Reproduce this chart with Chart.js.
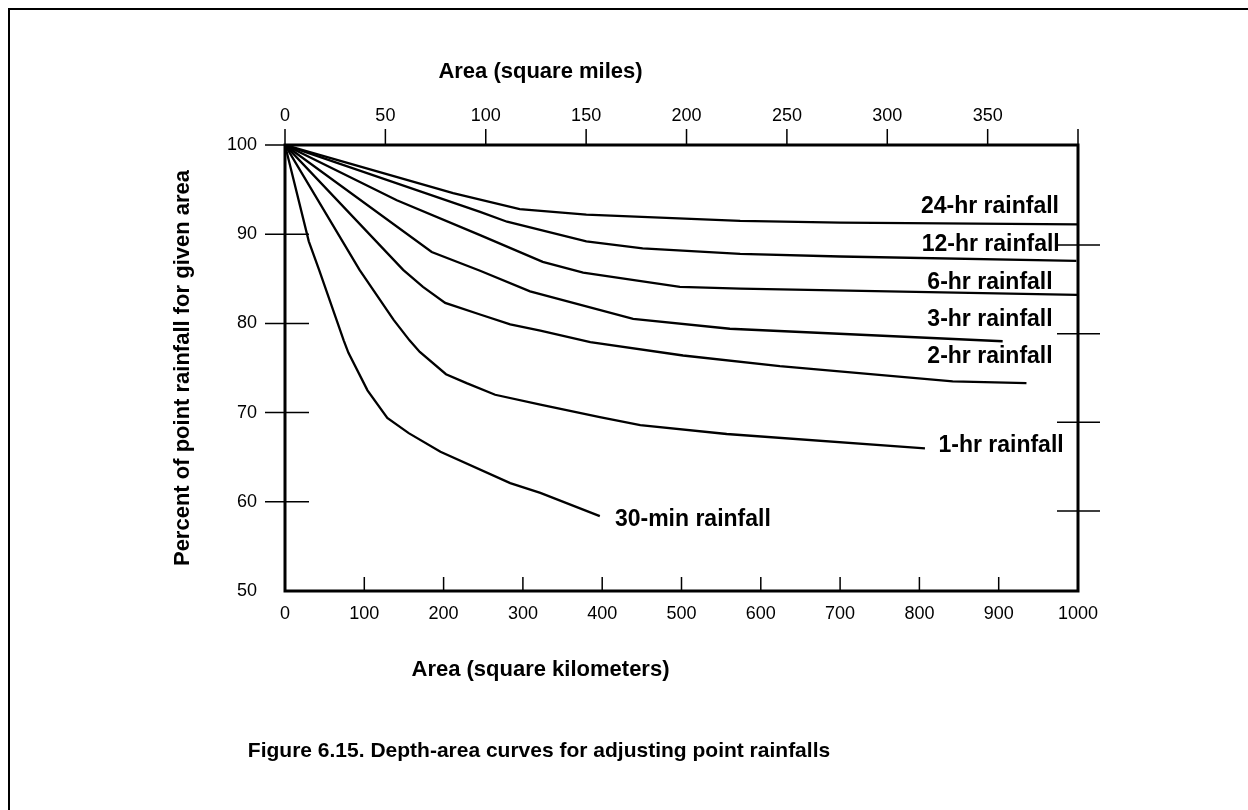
<!DOCTYPE html>
<html>
<head>
<meta charset="utf-8">
<script src="https://cdn.jsdelivr.net/npm/chart.js@4"></script>
<style>
  html, body { margin: 0; padding: 0; background: #fff; }
</style>
</head>
<body>
<canvas id="chart" width="1248" height="810"></canvas>
<script>
// depth-area curves: [area km², % of point rainfall]
const SERIES_NAMES = ['24-hr rainfall', '12-hr rainfall', '6-hr rainfall', '3-hr rainfall',
                      '2-hr rainfall', '1-hr rainfall', '30-min rainfall'];
const HR24 = [[0, 100], [212, 94.6], [296, 92.8], [380, 92.2], [574, 91.5], [700, 91.3], [999, 91.1]];
const HR12 = [[0, 100], [246, 92.5], [280, 91.4], [380, 89.2], [451, 88.4], [574, 87.8], [700, 87.5], [998, 87.0]];
const HR6 = [[0, 100], [141, 93.8], [246, 89.9], [325, 86.9], [376, 85.7], [498, 84.1], [574, 83.9], [999, 83.2]];
const HR3 = [[0, 100], [185, 88.0], [246, 85.9], [309, 83.6], [439, 80.5], [561, 79.4], [905, 78.0]];
const HR2 = [[0, 100], [149, 86.0], [174, 84.1], [202, 82.3], [246, 81.0], [284, 79.9], [322, 79.2],
             [385, 77.9], [502, 76.4], [624, 75.2], [842, 73.5], [935, 73.3]];
const HR1 = [[0, 100], [94, 86.0], [137, 80.4], [157, 78.1], [170, 76.8], [203, 74.3], [229, 73.3],
             [265, 72.0], [322, 70.9], [397, 69.5], [448, 68.6], [557, 67.6], [807, 66.0]];
const MIN30 = [[0, 100], [30, 89.2], [43, 86.0], [65, 80.4], [74, 78.1], [80, 76.7], [104, 72.5],
               [129, 69.4], [156, 67.7], [196, 65.6], [284, 62.1], [322, 61.0], [397, 58.4]];

const KM_TICKS = [0, 100, 200, 300, 400, 500, 600, 700, 800, 900, 1000];
const MI_TICKS = [0, 50, 100, 150, 200, 250, 300, 350];
const PCT_TICKS = [50, 60, 70, 80, 90, 100];
const RIGHT_TICKS = [60, 70, 80, 90];
const KM_MAX = 1000;
const MI_MAX = 395;            // top scale as drawn in the figure
const RIGHT_RANGE = [50.98, 101.28]; // the right-hand ticks sit a little lower than the left ones

// where each curve's name sits: [km, percent, align]
const LABEL_AT = [[976, 93.05, 'right'], [977, 88.8, 'right'], [968, 84.55, 'right'], [968, 80.45, 'right'],
                  [968, 76.25, 'right'], [824, 66.25, 'left'], [416, 58.05, 'left']];

const FONT = "'Liberation Sans', Arial, Helvetica, sans-serif";
Chart.defaults.color = '#000';
Chart.defaults.font.family = FONT;

const curves = [HR24, HR12, HR6, HR3, HR2, HR1, MIN30];

const figurePlugin = {
    id: 'figure',
    afterDraw(chart) {
        const { ctx, chartArea: a, scales: { x, x2, y, y2 } } = chart;
        ctx.save();
        ctx.strokeStyle = '#000';
        ctx.fillStyle = '#000';

        // outer frame, only top and left edge in view
        ctx.lineWidth = 2;
        ctx.beginPath();
        ctx.moveTo(9, 810);
        ctx.lineTo(9, 9);
        ctx.lineTo(1248, 9);
        ctx.stroke();

        // plot box
        ctx.lineWidth = 3;
        ctx.strokeRect(a.left, a.top, a.right - a.left, a.bottom - a.top);

        // tick marks
        ctx.lineWidth = 1.5;
        ctx.beginPath();
        x.ticks.forEach(t => {
            if (t.value > x.min && t.value < x.max) {
                const px = x.getPixelForValue(t.value);
                ctx.moveTo(px, a.bottom);
                ctx.lineTo(px, a.bottom - 14);
            }
        });
        x2.ticks.map(t => t.value).concat([x2.max]).forEach(v => {
            const px = x2.getPixelForValue(v);
            ctx.moveTo(px, a.top);
            ctx.lineTo(px, a.top - 16);
        });
        y.ticks.forEach(t => {
            if (t.value <= y.min) return;
            const py = y.getPixelForValue(t.value);
            ctx.moveTo(a.left - 20, py);
            ctx.lineTo(a.left + 24, py);
        });
        RIGHT_TICKS.forEach(v => {
            const py = y2.getPixelForValue(v);
            ctx.moveTo(a.right - 21, py);
            ctx.lineTo(a.right + 22, py);
        });
        ctx.stroke();

        // axis titles
        const mid = (a.left + a.right) / 2 - 141;
        ctx.font = 'bold 22px ' + FONT;
        ctx.textAlign = 'center';
        ctx.textBaseline = 'middle';
        ctx.fillText('Area (square miles)', mid, 72);
        ctx.fillText('Area (square kilometers)', mid, 670);

        // curve names
        ctx.font = 'bold 23px ' + FONT;
        SERIES_NAMES.forEach((name, i) => {
            const [km, pct, align] = LABEL_AT[i];
            ctx.textAlign = align;
            ctx.fillText(name, x.getPixelForValue(km), y.getPixelForValue(pct));
        });
        ctx.restore();
    }
};

const tickFont = { family: FONT, size: 18 };
const plain = v => String(v);

new Chart(document.getElementById('chart'), {
    type: 'line',
    data: {
        datasets: curves.map((pts, i) => ({
            label: SERIES_NAMES[i],
            data: pts.map(([km, pct]) => ({ x: km, y: pct })),
            borderColor: '#000',
            borderWidth: 2.3,
            pointRadius: 0,
            tension: 0,
            fill: false,
            xAxisID: 'x',
            yAxisID: 'y'
        }))
    },
    options: {
        responsive: false,
        animation: false,
        layout: { padding: { left: 0, right: 170, top: 0, bottom: 0 } },
        plugins: {
            legend: { display: false },
            tooltip: { enabled: false },
            title: {
                display: true,
                position: 'bottom',
                text: 'Figure 6.15. Depth-area curves for adjusting point rainfalls',
                color: '#000',
                font: { family: FONT, size: 21, weight: 'bold' },
                padding: { top: 10, bottom: 46.4 }
            }
        },
        scales: {
            x: {
                type: 'linear',
                position: 'bottom',
                min: 0,
                max: KM_MAX,
                afterBuildTicks: s => { s.ticks = KM_TICKS.map(v => ({ value: v })); },
                afterFit: s => { s.height = 137.4; },
                grid: { display: false, drawTicks: false },
                border: { display: false },
                ticks: { padding: 12, font: tickFont, maxRotation: 0, autoSkip: false, callback: plain }
            },
            x2: {
                type: 'linear',
                display: true,
                position: 'top',
                min: 0,
                max: MI_MAX,
                afterBuildTicks: s => { s.ticks = MI_TICKS.map(v => ({ value: v })); },
                afterFit: s => { s.height = 145; },
                grid: { display: false, drawTicks: false },
                border: { display: false },
                ticks: { padding: 18, font: tickFont, maxRotation: 0, autoSkip: false, callback: plain }
            },
            y: {
                type: 'linear',
                position: 'left',
                min: 50,
                max: 100,
                afterBuildTicks: s => { s.ticks = PCT_TICKS.map(v => ({ value: v })); },
                afterFit: s => { s.width = 285; },
                grid: { display: false, drawTicks: false },
                border: { display: false },
                ticks: { padding: 28, font: tickFont, callback: plain },
                title: {
                    display: true,
                    text: 'Percent of point rainfall for given area',
                    color: '#000',
                    font: { family: FONT, size: 22, weight: 'bold' },
                    padding: { top: 170, bottom: 0 }
                }
            },
            y2: {
                type: 'linear',
                display: false,
                position: 'right',
                min: RIGHT_RANGE[0],
                max: RIGHT_RANGE[1]
            }
        }
    },
    plugins: [figurePlugin]
});
</script>
</body>
</html>
